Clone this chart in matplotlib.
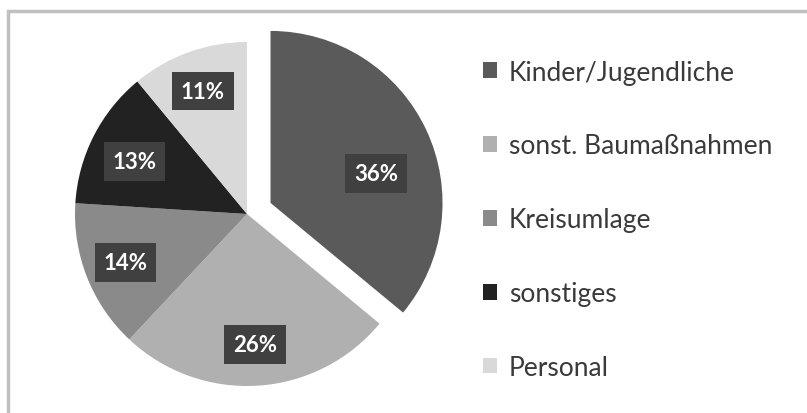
import matplotlib
matplotlib.use("Agg")
import matplotlib.pyplot as plt
from matplotlib.patches import Rectangle
import numpy as np

categories = ["Kinder/Jugendliche", "sonst. Baumaßnahmen", "Kreisumlage", "sonstiges", "Personal"]
values = [36, 26, 14, 13, 11]
colors = ["#5a5a5a", "#b0b0b0", "#8a8a8a", "#222222", "#d9d9d9"]

W, H = 807, 414
fig = plt.figure(figsize=(W / 100, H / 100), dpi=100)
ax = fig.add_axes([0, 0, 1, 1])

R = 172
cx, cy = 247, H - 215
explode = [26, 0, 0, 0, 0]
wedges, texts, autotexts = ax.pie(
    values, colors=colors, explode=explode, startangle=90, counterclock=False,
    center=(cx, cy), radius=R, autopct="%1.0f%%", pctdistance=0.76,
    wedgeprops=dict(linewidth=0), frame=True,
)
ax.set_xlim(0, W)
ax.set_ylim(0, H)
ax.set_aspect("equal")
ax.axis("off")

# frame (only top/left visible in reference)
ax.add_patch(Rectangle((8, -20), W + 40, H - 10 + 20 - 2, fill=False, ec="#c0c0c0", lw=2.5))

# first (exploded) label sits closer to its own wedge centre
w0 = wedges[0]
th = np.deg2rad((w0.theta1 + w0.theta2) / 2)
c0 = w0.center
autotexts[0].set_position((c0[0] + 0.68 * R * np.cos(th), c0[1] + 0.68 * R * np.sin(th) - 20))
# 13% label slightly lower
x3, y3 = autotexts[3].get_position()
autotexts[3].set_position((x3 + 4, y3 - 7))

for t in autotexts:
    t.set_color("white")
    t.set_fontsize(16)
    t.set_fontweight("bold")
    t.set_fontfamily("Lato")
    t.set_bbox(dict(boxstyle="square,pad=0.4", fc="#404040", ec="none"))

leg = ax.legend(
    wedges, categories, loc="upper left", bbox_to_anchor=(472 / W, 1 - 50 / H),
    frameon=False, handlelength=0.55, handleheight=0.55, handletextpad=0.45,
    labelspacing=1.85, prop=dict(family="Lato", size=19), borderaxespad=0,
)
for txt in leg.get_texts():
    txt.set_color("#3a3a3a")

fig.savefig("out.png", dpi=100)
